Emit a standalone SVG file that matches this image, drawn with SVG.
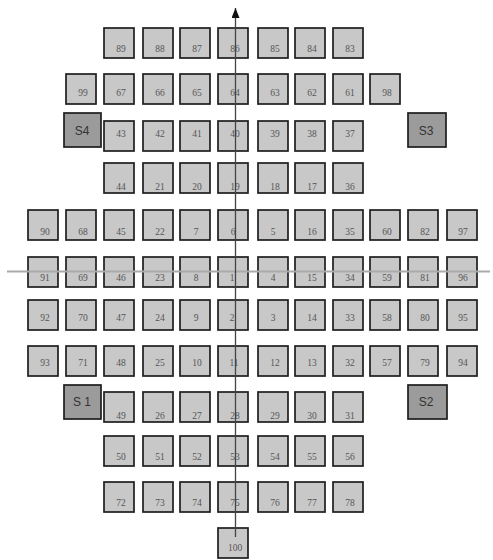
<svg xmlns="http://www.w3.org/2000/svg" width="493" height="560" viewBox="0 0 493 560">
<style>
.b{fill:#c8c8c8;stroke:#1e1e1e;stroke-width:1.7}
.s{fill:#9b9b9b;stroke:#1e1e1e;stroke-width:1.7}
.t{font-family:"Liberation Serif","DejaVu Serif",serif;font-size:9.5px;fill:#555;text-anchor:middle}
.st{font-family:"Liberation Sans","DejaVu Sans",sans-serif;font-size:12px;fill:#333;text-anchor:middle}
</style>
<defs>
<marker id="ah" markerWidth="10" markerHeight="8" refX="10" refY="4" orient="auto" markerUnits="userSpaceOnUse">
<path d="M0,0 L10,4 L0,8 Z" fill="#111"/>
</marker>
</defs>
<rect width="493" height="560" fill="#fff"/>
<g id="nodes">
<g id="n89"><rect class="b" x="104" y="28" width="30" height="30"/><text class="t" x="121" y="51.5">89</text></g>
<g id="n88"><rect class="b" x="143" y="28" width="30" height="30"/><text class="t" x="160" y="51.5">88</text></g>
<g id="n87"><rect class="b" x="180" y="28" width="30" height="30"/><text class="t" x="197" y="51.5">87</text></g>
<g id="n86"><rect class="b" x="218" y="28" width="30" height="30"/><text class="t" x="235" y="51.5">86</text></g>
<g id="n85"><rect class="b" x="258" y="28" width="30" height="30"/><text class="t" x="275" y="51.5">85</text></g>
<g id="n84"><rect class="b" x="295" y="28" width="30" height="30"/><text class="t" x="312" y="51.5">84</text></g>
<g id="n83"><rect class="b" x="333" y="28" width="30" height="30"/><text class="t" x="350" y="51.5">83</text></g>
<g id="n99"><rect class="b" x="66" y="74" width="30" height="30"/><text class="t" x="83" y="95.5">99</text></g>
<g id="n67"><rect class="b" x="104" y="74" width="30" height="30"/><text class="t" x="121" y="95.5">67</text></g>
<g id="n66"><rect class="b" x="143" y="74" width="30" height="30"/><text class="t" x="160" y="95.5">66</text></g>
<g id="n65"><rect class="b" x="180" y="74" width="30" height="30"/><text class="t" x="197" y="95.5">65</text></g>
<g id="n64"><rect class="b" x="218" y="74" width="30" height="30"/><text class="t" x="235" y="95.5">64</text></g>
<g id="n63"><rect class="b" x="258" y="74" width="30" height="30"/><text class="t" x="275" y="95.5">63</text></g>
<g id="n62"><rect class="b" x="295" y="74" width="30" height="30"/><text class="t" x="312" y="95.5">62</text></g>
<g id="n61"><rect class="b" x="333" y="74" width="30" height="30"/><text class="t" x="350" y="95.5">61</text></g>
<g id="n98"><rect class="b" x="370" y="74" width="30" height="30"/><text class="t" x="387" y="95.5">98</text></g>
<g id="S4"><rect class="s" x="64" y="113" width="37" height="34"/><text class="st" x="82" y="134.5">S4</text></g>
<g id="n43"><rect class="b" x="104" y="121" width="30" height="30"/><text class="t" x="121" y="136.5">43</text></g>
<g id="n42"><rect class="b" x="143" y="121" width="30" height="30"/><text class="t" x="160" y="136.5">42</text></g>
<g id="n41"><rect class="b" x="180" y="121" width="30" height="30"/><text class="t" x="197" y="136.5">41</text></g>
<g id="n40"><rect class="b" x="218" y="121" width="30" height="30"/><text class="t" x="235" y="136.5">40</text></g>
<g id="n39"><rect class="b" x="258" y="121" width="30" height="30"/><text class="t" x="275" y="136.5">39</text></g>
<g id="n38"><rect class="b" x="295" y="121" width="30" height="30"/><text class="t" x="312" y="136.5">38</text></g>
<g id="n37"><rect class="b" x="333" y="121" width="30" height="30"/><text class="t" x="350" y="136.5">37</text></g>
<g id="S3"><rect class="s" x="408" y="113" width="38" height="34"/><text class="st" x="426" y="134.5">S3</text></g>
<g id="n44"><rect class="b" x="104" y="163" width="30" height="30"/><text class="t" x="121" y="189.5">44</text></g>
<g id="n21"><rect class="b" x="143" y="163" width="30" height="30"/><text class="t" x="160" y="189.5">21</text></g>
<g id="n20"><rect class="b" x="180" y="163" width="30" height="30"/><text class="t" x="197" y="189.5">20</text></g>
<g id="n19"><rect class="b" x="218" y="163" width="30" height="30"/><text class="t" x="235" y="189.5">19</text></g>
<g id="n18"><rect class="b" x="258" y="163" width="30" height="30"/><text class="t" x="275" y="189.5">18</text></g>
<g id="n17"><rect class="b" x="295" y="163" width="30" height="30"/><text class="t" x="312" y="189.5">17</text></g>
<g id="n36"><rect class="b" x="333" y="163" width="30" height="30"/><text class="t" x="350" y="189.5">36</text></g>
<g id="n90"><rect class="b" x="28" y="210" width="30" height="30"/><text class="t" x="45" y="234.5">90</text></g>
<g id="n68"><rect class="b" x="66" y="210" width="30" height="30"/><text class="t" x="83" y="234.5">68</text></g>
<g id="n45"><rect class="b" x="104" y="210" width="30" height="30"/><text class="t" x="121" y="234.5">45</text></g>
<g id="n22"><rect class="b" x="143" y="210" width="30" height="30"/><text class="t" x="160" y="234.5">22</text></g>
<g id="n7"><rect class="b" x="180" y="210" width="30" height="30"/><text class="t" x="196" y="234.5">7</text></g>
<g id="n6"><rect class="b" x="218" y="210" width="30" height="30"/><text class="t" x="233" y="234.5">6</text></g>
<g id="n5"><rect class="b" x="258" y="210" width="30" height="30"/><text class="t" x="273" y="234.5">5</text></g>
<g id="n16"><rect class="b" x="295" y="210" width="30" height="30"/><text class="t" x="312" y="234.5">16</text></g>
<g id="n35"><rect class="b" x="333" y="210" width="30" height="30"/><text class="t" x="350" y="234.5">35</text></g>
<g id="n60"><rect class="b" x="370" y="210" width="30" height="30"/><text class="t" x="387" y="234.5">60</text></g>
<g id="n82"><rect class="b" x="408" y="210" width="30" height="30"/><text class="t" x="425" y="234.5">82</text></g>
<g id="n97"><rect class="b" x="447" y="210" width="30" height="30"/><text class="t" x="463" y="234.5">97</text></g>
<g id="n91"><rect class="b" x="28" y="257" width="30" height="30"/><text class="t" x="45" y="280.5">91</text></g>
<g id="n69"><rect class="b" x="66" y="257" width="30" height="30"/><text class="t" x="83" y="280.5">69</text></g>
<g id="n46"><rect class="b" x="104" y="257" width="30" height="30"/><text class="t" x="121" y="280.5">46</text></g>
<g id="n23"><rect class="b" x="143" y="257" width="30" height="30"/><text class="t" x="160" y="280.5">23</text></g>
<g id="n8"><rect class="b" x="180" y="257" width="30" height="30"/><text class="t" x="196" y="280.5">8</text></g>
<g id="n1"><rect class="b" x="218" y="257" width="30" height="30"/><text class="t" x="232" y="280.5">1</text></g>
<g id="n4"><rect class="b" x="258" y="257" width="30" height="30"/><text class="t" x="273" y="280.5">4</text></g>
<g id="n15"><rect class="b" x="295" y="257" width="30" height="30"/><text class="t" x="312" y="280.5">15</text></g>
<g id="n34"><rect class="b" x="333" y="257" width="30" height="30"/><text class="t" x="350" y="280.5">34</text></g>
<g id="n59"><rect class="b" x="370" y="257" width="30" height="30"/><text class="t" x="387" y="280.5">59</text></g>
<g id="n81"><rect class="b" x="408" y="257" width="30" height="30"/><text class="t" x="425" y="280.5">81</text></g>
<g id="n96"><rect class="b" x="447" y="257" width="30" height="30"/><text class="t" x="463" y="280.5">96</text></g>
<g id="n92"><rect class="b" x="28" y="300" width="30" height="30"/><text class="t" x="45" y="320.5">92</text></g>
<g id="n70"><rect class="b" x="66" y="300" width="30" height="30"/><text class="t" x="83" y="320.5">70</text></g>
<g id="n47"><rect class="b" x="104" y="300" width="30" height="30"/><text class="t" x="121" y="320.5">47</text></g>
<g id="n24"><rect class="b" x="143" y="300" width="30" height="30"/><text class="t" x="160" y="320.5">24</text></g>
<g id="n9"><rect class="b" x="180" y="300" width="30" height="30"/><text class="t" x="196" y="320.5">9</text></g>
<g id="n2"><rect class="b" x="218" y="300" width="30" height="30"/><text class="t" x="232" y="320.5">2</text></g>
<g id="n3"><rect class="b" x="258" y="300" width="30" height="30"/><text class="t" x="273" y="320.5">3</text></g>
<g id="n14"><rect class="b" x="295" y="300" width="30" height="30"/><text class="t" x="312" y="320.5">14</text></g>
<g id="n33"><rect class="b" x="333" y="300" width="30" height="30"/><text class="t" x="350" y="320.5">33</text></g>
<g id="n58"><rect class="b" x="370" y="300" width="30" height="30"/><text class="t" x="387" y="320.5">58</text></g>
<g id="n80"><rect class="b" x="408" y="300" width="30" height="30"/><text class="t" x="425" y="320.5">80</text></g>
<g id="n95"><rect class="b" x="447" y="300" width="30" height="30"/><text class="t" x="463" y="320.5">95</text></g>
<g id="n93"><rect class="b" x="28" y="346" width="30" height="30"/><text class="t" x="45" y="366">93</text></g>
<g id="n71"><rect class="b" x="66" y="346" width="30" height="30"/><text class="t" x="83" y="366">71</text></g>
<g id="n48"><rect class="b" x="104" y="346" width="30" height="30"/><text class="t" x="121" y="366">48</text></g>
<g id="n25"><rect class="b" x="143" y="346" width="30" height="30"/><text class="t" x="160" y="366">25</text></g>
<g id="n10"><rect class="b" x="180" y="346" width="30" height="30"/><text class="t" x="197" y="366">10</text></g>
<g id="n11"><rect class="b" x="218" y="346" width="30" height="30"/><text class="t" x="234" y="366">11</text></g>
<g id="n12"><rect class="b" x="258" y="346" width="30" height="30"/><text class="t" x="275" y="366">12</text></g>
<g id="n13"><rect class="b" x="295" y="346" width="30" height="30"/><text class="t" x="312" y="366">13</text></g>
<g id="n32"><rect class="b" x="333" y="346" width="30" height="30"/><text class="t" x="350" y="366">32</text></g>
<g id="n57"><rect class="b" x="370" y="346" width="30" height="30"/><text class="t" x="387" y="366">57</text></g>
<g id="n79"><rect class="b" x="408" y="346" width="30" height="30"/><text class="t" x="425" y="366">79</text></g>
<g id="n94"><rect class="b" x="447" y="346" width="30" height="30"/><text class="t" x="463" y="366">94</text></g>
<g id="S1"><rect class="s" x="64" y="385" width="37" height="34"/><text class="st" x="82" y="406">S 1</text></g>
<g id="n49"><rect class="b" x="104" y="392" width="30" height="30"/><text class="t" x="121" y="419">49</text></g>
<g id="n26"><rect class="b" x="143" y="392" width="30" height="30"/><text class="t" x="160" y="419">26</text></g>
<g id="n27"><rect class="b" x="180" y="392" width="30" height="30"/><text class="t" x="197" y="419">27</text></g>
<g id="n28"><rect class="b" x="218" y="392" width="30" height="30"/><text class="t" x="235" y="419">28</text></g>
<g id="n29"><rect class="b" x="258" y="392" width="30" height="30"/><text class="t" x="275" y="419">29</text></g>
<g id="n30"><rect class="b" x="295" y="392" width="30" height="30"/><text class="t" x="312" y="419">30</text></g>
<g id="n31"><rect class="b" x="333" y="392" width="30" height="30"/><text class="t" x="350" y="419">31</text></g>
<g id="S2"><rect class="s" x="408" y="385" width="39" height="34"/><text class="st" x="426" y="406">S2</text></g>
<g id="n50"><rect class="b" x="104" y="436" width="30" height="30"/><text class="t" x="121" y="460">50</text></g>
<g id="n51"><rect class="b" x="143" y="436" width="30" height="30"/><text class="t" x="160" y="460">51</text></g>
<g id="n52"><rect class="b" x="180" y="436" width="30" height="30"/><text class="t" x="197" y="460">52</text></g>
<g id="n53"><rect class="b" x="218" y="436" width="30" height="30"/><text class="t" x="235" y="460">53</text></g>
<g id="n54"><rect class="b" x="258" y="436" width="30" height="30"/><text class="t" x="275" y="460">54</text></g>
<g id="n55"><rect class="b" x="295" y="436" width="30" height="30"/><text class="t" x="312" y="460">55</text></g>
<g id="n56"><rect class="b" x="333" y="436" width="30" height="30"/><text class="t" x="350" y="460">56</text></g>
<g id="n72"><rect class="b" x="104" y="482" width="30" height="30"/><text class="t" x="121" y="506">72</text></g>
<g id="n73"><rect class="b" x="143" y="482" width="30" height="30"/><text class="t" x="160" y="506">73</text></g>
<g id="n74"><rect class="b" x="180" y="482" width="30" height="30"/><text class="t" x="197" y="506">74</text></g>
<g id="n75"><rect class="b" x="218" y="482" width="30" height="30"/><text class="t" x="235" y="506">75</text></g>
<g id="n76"><rect class="b" x="258" y="482" width="30" height="30"/><text class="t" x="275" y="506">76</text></g>
<g id="n77"><rect class="b" x="295" y="482" width="30" height="30"/><text class="t" x="312" y="506">77</text></g>
<g id="n78"><rect class="b" x="333" y="482" width="30" height="30"/><text class="t" x="350" y="506">78</text></g>
<g id="n100"><rect class="b" x="218" y="528" width="30" height="30"/><text class="t" x="235" y="550.5">100</text></g>
</g>
<g id="connectors">
<line x1="7" y1="271.5" x2="490" y2="271.5" stroke="#aaa" stroke-width="2"/>
<line x1="235.5" y1="537" x2="235.5" y2="8" stroke="#444" stroke-width="1.3" marker-end="url(#ah)"/>
</g>
</svg>
